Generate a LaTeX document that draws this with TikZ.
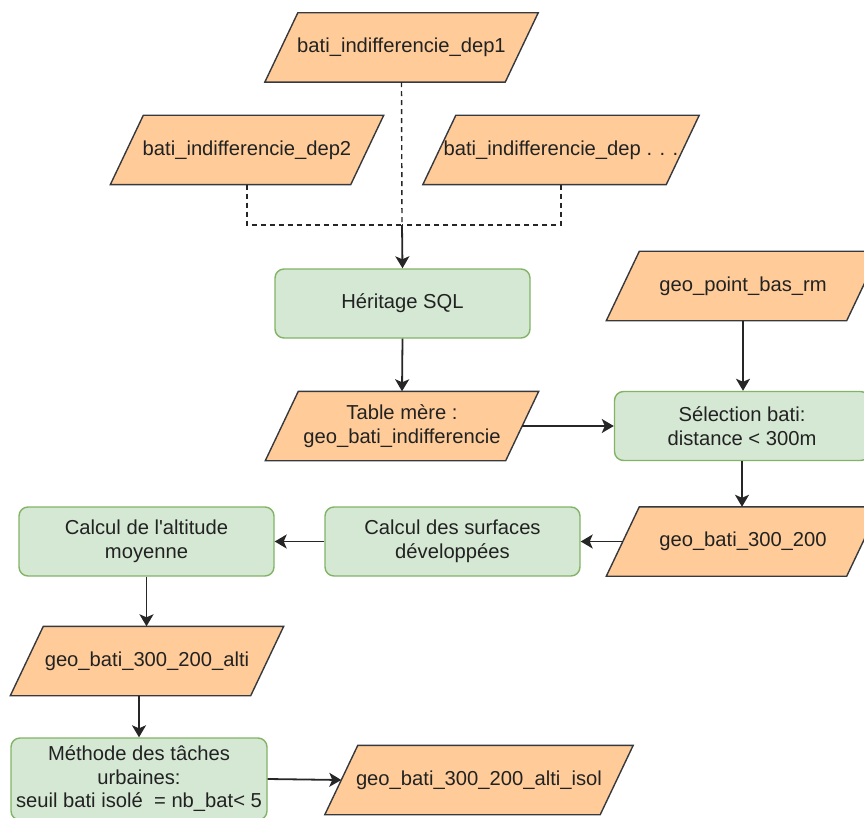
\documentclass[tikz,border=0pt]{standalone}
\usepackage{fontspec}
\setmainfont{Liberation Sans}
\usetikzlibrary{arrows.meta,calc}
\pgfdeclarelayer{background}
\pgfsetlayers{background,main}
\definecolor{orfill}{HTML}{FFCC99}
\definecolor{orline}{HTML}{36393D}
\definecolor{grfill}{HTML}{D5E8D4}
\definecolor{grline}{HTML}{82B366}
\definecolor{txt}{HTML}{222222}
\begin{document}
\begin{tikzpicture}[x=1pt,y=-1pt,
  lbl/.style={text=txt,font=\fontsize{20.2}{23.5}\selectfont,align=center,inner sep=0pt},
  proc/.style={lbl,draw=grline,fill=grfill,line width=1.4pt,rounded corners=9pt,
               minimum width=255pt,minimum height=69pt},
  io/.style={lbl,minimum width=#1,minimum height=69pt},
  io/.default=240pt,
  para/.style={draw=orline,fill=orfill,line width=1.4pt},
  arr/.style={-{Stealth[length=12pt,width=14pt,inset=3pt]},line width=1.8pt,black!85},
  dsh/.style={dash pattern=on 5pt off 4pt,line width=1.4pt,black!85}]
\useasboundingbox (0,0) rectangle (864,818);

% data (parallelogram) nodes
\node[io]        (dep1)      at (401.5,47.5) {bati\_indifferencie\_dep1};
\node[io]        (dep2)      at (247,150)    {bati\_indifferencie\_dep2};
\node[io=243pt]  (depx)      at (561,150)    {bati\_indifferencie\_dep . . .};
\node[io]        (pointbas)  at (743,286)    {geo\_point\_bas\_rm};
\node[io]        (tablemere) at (402,426)    {Table mère :\\geo\_bati\_indifferencie};
\node[io]        (geo)       at (743,541.5)  {geo\_bati\_300\_200};
\node[io]        (alti)      at (147,661)    {geo\_bati\_300\_200\_alti};
\node[io=275pt]  (isol)      at (479,780)    {geo\_bati\_300\_200\_alti\_isol};

% process nodes
\node[proc] (heritage)  at (402.5,303.5) {Héritage SQL};
\node[proc] (selection) at (742,426)     {Sélection bati:\\distance < 300m};
\node[proc] (surfaces)  at (452.5,541.5) {Calcul des surfaces\\développées};
\node[proc] (altitude)  at (146.5,541.5) {Calcul de l\textquotesingle{}altitude\\moyenne};
\node[proc,minimum width=256pt,minimum height=82pt] (methode) at (139,779)
  {Méthode des tâches\\urbaines:\\seuil bati isolé\ \ = nb\_bat<\ 5};

% parallelogram outlines behind the texts
\begin{pgfonlayer}{background}
\foreach \n in {dep1,dep2,depx,pointbas,tablemere,geo,alti,isol}
  \draw[para] ($(\n.south west)+(-16.5,0)$) -- ($(\n.south east)+(-16.5,0)$)
           -- ($(\n.north east)+(16.5,0)$) -- ($(\n.north west)+(16.5,0)$) -- cycle;
\end{pgfonlayer}

% merging dashed connectors
\coordinate (j) at (402,225);
\draw[dsh] (dep1.south) -- (j);
\draw[dsh] (dep2.south) |- (j);
\draw[dsh] (depx.south) |- (j);
\draw[arr] (j) -- (heritage.north);

% solid connectors
\draw[arr] (heritage.south) -- (tablemere.north);
\draw[arr] (pointbas.south) -- (pointbas.south |- selection.north);
\draw[arr] (tablemere.east) -- (selection.west);
\draw[arr] (selection.south) -- (selection.south |- geo.north);
\draw[arr] (geo.west) -- (surfaces.east);
\draw[arr] (surfaces.west) -- (altitude.east);
\draw[arr] (altitude.south) -- (altitude.south |- alti.north);
\draw[arr] (alti.south -| methode.north) -- (methode.north);
\draw[arr] (methode.east) -- (isol.west);
\end{tikzpicture}
\end{document}
